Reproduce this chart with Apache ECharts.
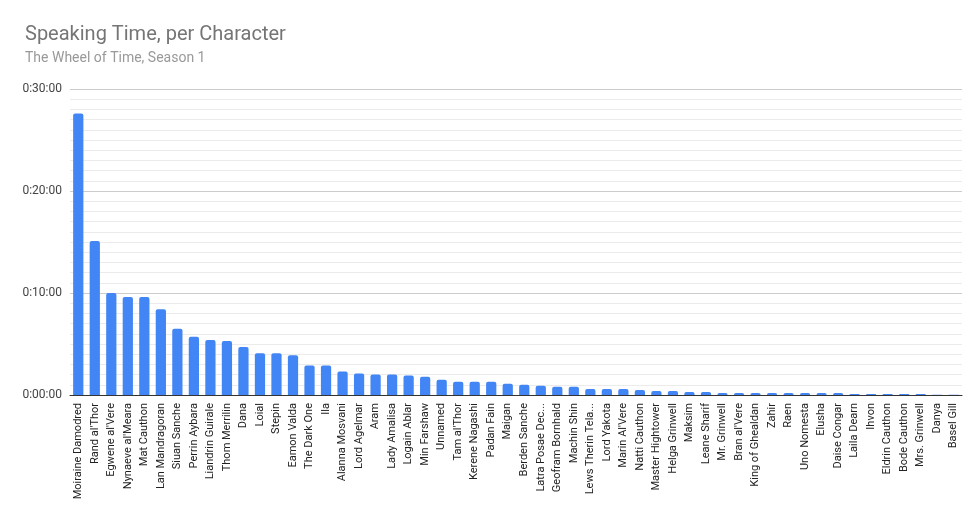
<!DOCTYPE html>
<html>
<head>
<meta charset="utf-8">
<script src="https://cdn.jsdelivr.net/npm/echarts@6/dist/echarts.min.js"></script>
<style>html,body{margin:0;padding:0;background:#fff}#main{width:980px;height:513px}</style>
</head>
<body>
<div id="main"></div>
<script>
// 角色名
var characters = ['Moiraine Damodred', "Rand al'Thor", "Egwene al'Vere", "Nynaeve al'Meara", 'Mat Cauthon',
  'Lan Mandragoran', 'Siuan Sanche', 'Perrin Aybara', 'Liandrin Guirale', 'Thom Merrilin', 'Dana', 'Loial',
  'Stepin', 'Eamon Valda', 'The Dark One', 'Ila', 'Alanna Mosvani', 'Lord Agelmar', 'Aram', 'Lady Amalisa',
  'Logain Ablar', 'Min Farshaw', 'Unnamed', "Tam al'Thor", 'Kerene Nagashi', 'Padan Fain', 'Maigan',
  'Berden Sanche', 'Latra Posae Decume', 'Geofram Bornhald', 'Machin Shin', 'Lews Therin Telamon',
  'Lord Yakota', "Marin Al'Vere", 'Natti Cauthon', 'Master Hightower', 'Helga Grinwell', 'Maksim',
  'Leane Sharif', 'Mr. Grinwell', "Bran al'Vere", 'King of Ghealdan', 'Zahir', 'Raen', 'Uno Nomesta',
  'Elusha', 'Daise Congar', 'Laila Dearn', 'Ihvon', 'Eldrin Cauthon', 'Bode Cauthon', 'Mrs. Grinwell',
  'Danya', 'Basel Gill'];
// 说话时长（秒）
var seconds = [1656, 906, 600, 576, 576, 504, 390, 342, 324, 318, 282, 246, 246, 234, 174, 174, 138, 126,
  120, 120, 114, 108, 90, 78, 78, 78, 66, 60, 54, 48, 48, 36, 36, 36, 30, 24, 24, 18, 18, 12, 12, 12, 12,
  12, 12, 12, 12, 6, 6, 6, 6, 6, 1, 1];

function fmt(v) {
  var h = Math.floor(v / 3600), m = Math.floor((v % 3600) / 60), s = Math.round(v % 60);
  return h + ':' + (m < 10 ? '0' : '') + m + ':' + (s < 10 ? '0' : '') + s;
}

var myChart = echarts.init(document.getElementById('main'));
var option = {
  title: {
    text: 'Speaking Time, per Character',
    subtext: 'The Wheel of Time, Season 1',
    left: 20, top: 20,
    textStyle: { fontFamily: 'Roboto', fontWeight: 'normal', fontSize: 20, color: '#757575' },
    subtextStyle: { fontFamily: 'Roboto', fontSize: 14, color: '#999' },
    itemGap: 6
  },
  grid: { left: 70, right: 18, top: 89, bottom: 118 },
  xAxis: {
    type: 'category',
    data: characters,
    axisTick: { show: false },
    axisLine: { lineStyle: { color: '#333' } },
    axisLabel: {
      rotate: 90, interval: 0, fontFamily: 'Roboto', fontSize: 11, color: '#222',
      width: 98, overflow: 'truncate', ellipsis: '...'
    }
  },
  yAxis: {
    type: 'value', min: 0, max: 1800, interval: 600,
    axisLabel: { formatter: fmt, fontFamily: 'Roboto', fontSize: 12, color: '#444' },
    splitLine: { lineStyle: { color: '#ccc' } },
    minorTick: { show: false, splitNumber: 10 },
    minorSplitLine: { show: true, lineStyle: { color: '#ebebeb' } }
  },
  series: [{
    type: 'bar',
    data: seconds,
    barWidth: '62%',
    itemStyle: { color: '#4285f4', borderRadius: [2, 2, 0, 0] }
  }]
};
myChart.setOption(option);
</script>
</body>
</html>
